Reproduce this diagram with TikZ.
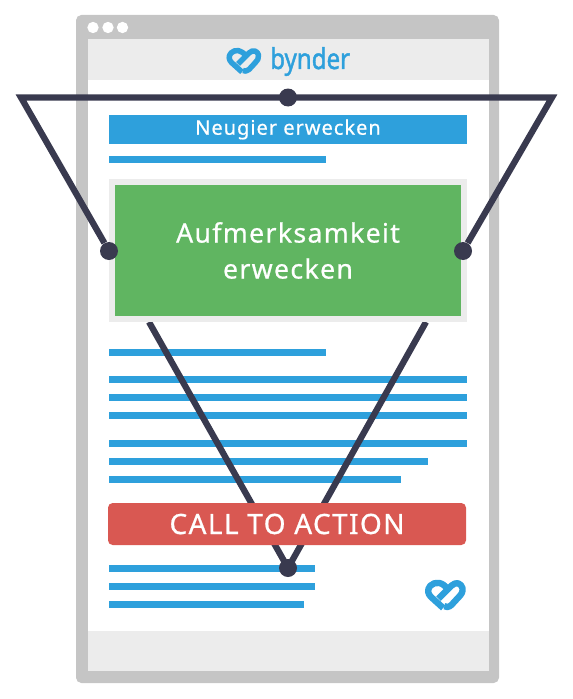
\documentclass[tikz,border=0pt]{standalone}
\usepackage{fontspec}
\setmainfont{Noto Sans}
\newfontfamily\spaced[LetterSpace=5,FakeBold=.7]{Noto Sans}
\newfontfamily\logofont[FakeBold=1.6]{Noto Sans}
\usepackage{xcolor}
\usetikzlibrary{positioning,calc}
\definecolor{mFrame}{RGB}{197,197,197}
\definecolor{mPanel}{RGB}{236,236,236}
\definecolor{mBlue}{RGB}{46,160,220}
\definecolor{mGreen}{RGB}{96,181,97}
\definecolor{mRed}{RGB}{217,88,82}
\definecolor{mDark}{RGB}{57,58,79}
\tikzset{
x=.75pt,y=-.75pt,
framebox/.style={rectangle,rounded corners=4pt,fill=mFrame,minimum width=317.25pt,minimum height=501pt,inner sep=0pt},
panel/.style={rectangle,fill=mPanel,inner sep=0pt},
headline/.style={rectangle,fill=mBlue,text=white,minimum width=268.5pt,minimum height=22pt,inner sep=0pt,font=\spaced\fontsize{15}{17}\selectfont},
hero/.style={rectangle,fill=mGreen,text=white,minimum width=259.5pt,minimum height=98.25pt,inner sep=0pt,align=center,font=\spaced\fontsize{20}{27}\selectfont},
herobg/.style={rectangle,fill=mPanel,minimum width=268.5pt,minimum height=107.25pt,inner sep=0pt},
action/.style={rectangle,rounded corners=3.5pt,fill=mRed,text=white,minimum width=268.5pt,minimum height=31.5pt,inner sep=0pt,font=\spaced\fontsize{21}{24}\selectfont},
knob/.style={circle,fill=mDark,minimum size=13.5pt,inner sep=0pt},
winbtn/.style={circle,fill=white,minimum size=8.5pt,inner sep=0pt},
textline/.style={mBlue,line width=5.25pt},
funnel/.style={mDark,line width=4.7pt},
wordmark/.style={text=mBlue,inner sep=0pt,xscale=.84,font=\logofont\fontsize{21.5}{24}\selectfont}
}
\newcommand{\byndermark}[3]{%
\begin{scope}[shift={(#1,#2)},scale=#3,mBlue,line width=#3*4.1pt,line cap=butt,line join=round]
\draw (2,-4) .. controls (-2,-11) and (-9,-11.5) .. (-13,-7.5) .. controls (-16,-4) and (-15,-.5) .. (-12.5,2) -- (-2,11.5);
\draw (-6,3.5) -- (5,-7.5) .. controls (9,-11.5) and (13.5,-9.5) .. (14.5,-5.5) .. controls (15,-2) and (13.5,0) .. (11,2.5) -- (5,9) .. controls (3,11) and (0,11) .. (-1,10);
\end{scope}}
\begin{document}
\begin{tikzpicture}
\useasboundingbox (0,0) rectangle (572,699);
% browser window
\node[framebox] (window) at (287.5,349) {};
\node[panel,minimum width=300.75pt,minimum height=474pt] (page) at (288,355) {};
\fill[white] (87.5,80) rectangle (488.5,631);
\node[winbtn] (btna) at (93,27.5) {};
\node[winbtn] (btnb) at (108,27.5) {};
\node[winbtn] (btnc) at (122.5,27.5) {};
% logo
\byndermark{244}{60.5}{1}
\node[wordmark,anchor=base west] (bynder) at (270,69) {bynder};
\byndermark{445.5}{594.5}{1.17}
% text lines
\foreach \yy/\xx in {159.5/326,352/326,379/467,397/467,415/467,443/467,461/428,479/401,568/315,586/315,604/304}
\draw[textline] (109,\yy) -- (\xx,\yy);
% lower funnel goes behind the boxes
\coordinate (funnelA) at (149,322);
\coordinate (funnelB) at (426,322);
\coordinate (tip) at (288,568);
\draw[funnel,line join=round] (funnelA) -- (tip) -- (funnelB);
\node[headline] (title) at (288,129.5) {\raisebox{-2.2pt}{Neugier erwecken}};
\node[herobg] (herobox) at (288,250.5) {};
\node[hero] (herotext) at (288,250.5) {Aufmerksamkeit\\erwecken};
\node[action] (cta) at (287,524) {CALL TO ACTION};
% funnel on top
\coordinate (cornerL) at (21,97.5);
\coordinate (cornerR) at (552,97.5);
\node[knob] (knobT) at (288,97.5) {};
\node[knob] (knobL) at (109,251) {};
\node[knob] (knobR) at (463,251) {};
\node[knob] (knobB) at (tip) {};
\draw[funnel] (knobL) -- (cornerL) -- (cornerR) -- (knobR);
\end{tikzpicture}
\end{document}
